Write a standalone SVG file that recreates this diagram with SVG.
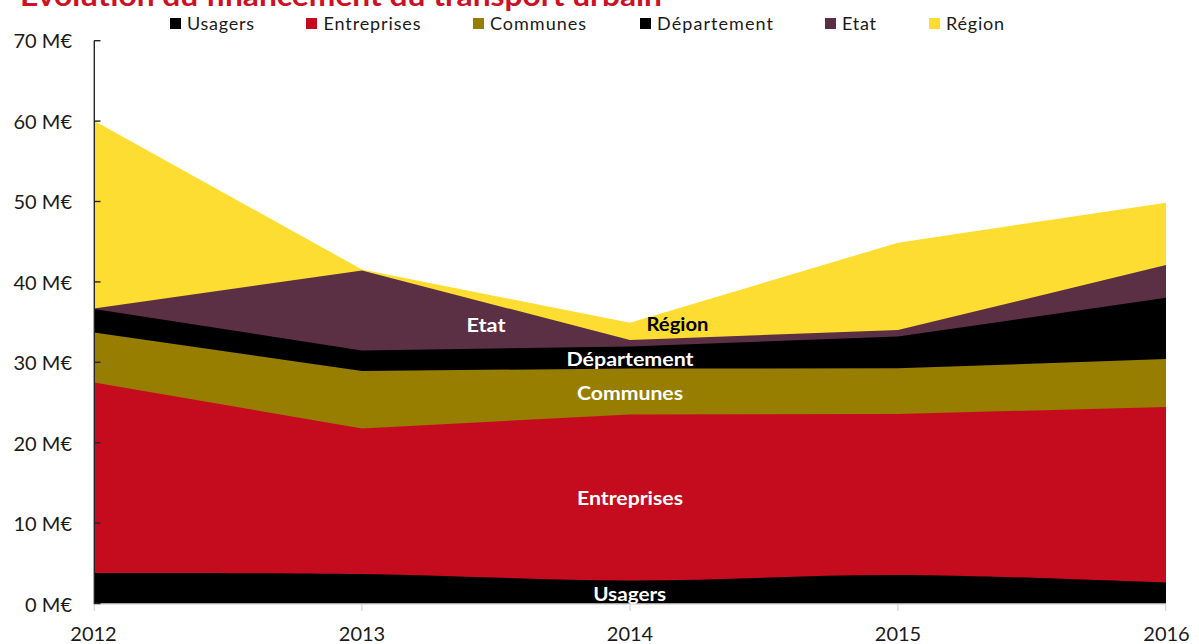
<svg xmlns="http://www.w3.org/2000/svg" width="1199" height="644" viewBox="0 0 1199 644">
<style>
text { font-family: Lato, "Liberation Sans", sans-serif; }
.ylab { font-size: 20px; fill: #1a1a1a; text-anchor: end; }
.xlab { font-size: 20px; fill: #1a1a1a; text-anchor: middle; }
.leg { font-size: 18px; fill: #1a1a1a; }
.lbl { font-size: 19px; font-weight: bold; fill: #ffffff; text-anchor: middle; }
.tick { stroke: #262626; stroke-width: 1.4; }
.xtick { stroke: #d9d9d9; stroke-width: 1.4; }
</style>
<rect width="1199" height="644" fill="#ffffff"/>
<text x="20" y="6" font-size="28" font-weight="bold" fill="#cc1126" textLength="642" lengthAdjust="spacingAndGlyphs">Evolution du financement du transport urbain</text>
<g id="legend">
<rect x="170" y="18" width="11" height="11" fill="#000000"/>
<text class="leg" x="187" y="30" textLength="67">Usagers</text>
<rect x="306" y="18" width="11" height="11" fill="#c40c1e"/>
<text class="leg" x="323.5" y="30" textLength="97">Entreprises</text>
<rect x="473" y="18" width="11" height="11" fill="#977d00"/>
<text class="leg" x="490" y="30" textLength="96">Communes</text>
<rect x="640" y="18" width="11" height="11" fill="#000000"/>
<text class="leg" x="657" y="30" textLength="116">Département</text>
<rect x="825" y="18" width="11" height="11" fill="#5b3045"/>
<text class="leg" x="842" y="30" textLength="34">Etat</text>
<rect x="929" y="18" width="11" height="11" fill="#fedd32"/>
<text class="leg" x="946" y="30" textLength="58">Région</text>
</g>
<g id="areas">
<polygon id="region" fill="#fedd32" points="94,120.7 362,269.5 630,322.7 898,242.7 1166,202.7 1166,604 94,604"/>
<polygon id="etat" fill="#5b3045" points="94,308.5 362,270.5 630,340 898,330 1166,265 1166,604 94,604"/>
<polygon id="departement" fill="#000000" points="94,309 362,350.5 630,346.5 898,336.5 1166,297.7 1166,604 94,604"/>
<polygon id="communes" fill="#977d00" points="94,332.5 362,371 630,368.5 898,368.3 1166,359 1166,604 94,604"/>
<polygon id="entreprises" fill="#c40c1e" points="94,382.5 362,428.5 630,414.5 898,414 1166,407 1166,604 94,604"/>
<path id="usagers" fill="#000000" d="M94,573 C138.7,573.2 272.7,572.75 362,574 C451.3,575.25 540.7,580.33 630,580.5 C719.3,580.67 808.7,574.67 898,575 C987.3,575.33 1121.3,581.25 1166,582.5 L1166,604 L94,604 Z"/>
</g>
<g id="axes">
<line x1="94" y1="604" x2="1166" y2="604" stroke="#d9d9d9" stroke-width="1.4"/>
<line class="xtick" x1="94.3" y1="604" x2="94.3" y2="611"/>
<line class="xtick" x1="362" y1="604" x2="362" y2="611"/>
<line class="xtick" x1="630" y1="604" x2="630" y2="611"/>
<line class="xtick" x1="898" y1="604" x2="898" y2="611"/>
<line class="xtick" x1="1165.5" y1="604" x2="1165.5" y2="611"/>
<line x1="94.3" y1="40.7" x2="94.3" y2="604" stroke="#262626" stroke-width="1.4"/>
<line class="tick" x1="94" y1="603.5" x2="100.5" y2="603.5"/>
<line class="tick" x1="94" y1="523.1" x2="100.5" y2="523.1"/>
<line class="tick" x1="94" y1="442.7" x2="100.5" y2="442.7"/>
<line class="tick" x1="94" y1="362.3" x2="100.5" y2="362.3"/>
<line class="tick" x1="94" y1="281.9" x2="100.5" y2="281.9"/>
<line class="tick" x1="94" y1="201.5" x2="100.5" y2="201.5"/>
<line class="tick" x1="94" y1="121.1" x2="100.5" y2="121.1"/>
<line class="tick" x1="94" y1="40.7" x2="100.5" y2="40.7"/>
<text class="ylab" x="72" y="611.5">0 M€</text>
<text class="ylab" x="72" y="531">10 M€</text>
<text class="ylab" x="72" y="450.5">20 M€</text>
<text class="ylab" x="72" y="370">30 M€</text>
<text class="ylab" x="72" y="289.5">40 M€</text>
<text class="ylab" x="72" y="209">50 M€</text>
<text class="ylab" x="72" y="128.5">60 M€</text>
<text class="ylab" x="72" y="48">70 M€</text>
<text class="xlab" x="93.5" y="641">2012</text>
<text class="xlab" x="362" y="641">2013</text>
<text class="xlab" x="630" y="641">2014</text>
<text class="xlab" x="898" y="641">2015</text>
<text class="xlab" x="1166.5" y="641">2016</text>
</g>
<g id="labels">
<text class="lbl" x="486" y="331.5" textLength="39" lengthAdjust="spacingAndGlyphs">Etat</text>
<text class="lbl" x="677.5" y="331" textLength="62" lengthAdjust="spacingAndGlyphs" style="fill:#000000">Région</text>
<text class="lbl" x="630" y="365.5" textLength="127" lengthAdjust="spacingAndGlyphs">Département</text>
<text class="lbl" x="630" y="400" textLength="106" lengthAdjust="spacingAndGlyphs">Communes</text>
<text class="lbl" x="630" y="505" textLength="106" lengthAdjust="spacingAndGlyphs">Entreprises</text>
<text class="lbl" x="629.7" y="601" textLength="73" lengthAdjust="spacingAndGlyphs">Usagers</text>
</g>
</svg>
